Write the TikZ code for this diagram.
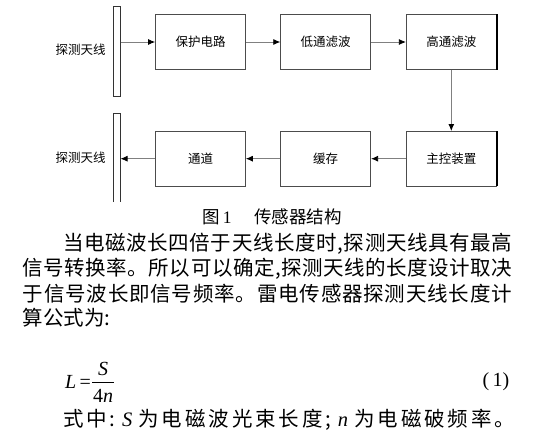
\documentclass[tikz,border=0pt]{standalone}
\usepackage{fontspec}
\setmainfont{Liberation Serif}
\newfontfamily\cjk{Noto Sans CJK SC}
\usetikzlibrary{arrows.meta}
\makeatletter
\def\spr@aux#1{\ifx#1\relax\else#1\hfil\expandafter\spr@aux\fi}
\newcommand\spreadto[2]{\hbox to #1{\spr@aux#2\relax\unskip}}
\makeatother
\newcommand\myS{\,{\rmfamily\itshape S}\,}
\newcommand\myN{\,{\rmfamily\itshape n}\,}
\begin{document}
\begin{tikzpicture}[x=1pt,y=-1pt,
  box/.style={draw=gray!60!black, line width=0.8pt, minimum width=90pt, minimum height=54.6pt, inner sep=0pt, font=\cjk\fontsize{12.5}{14}\selectfont},
  conn/.style={draw=gray, line width=0.8pt, -{Latex[length=7pt,width=6pt,color=black]}},
  lab/.style={font=\cjk\fontsize{12.5}{14}\selectfont, inner sep=0pt},
  body/.style={font=\cjk\fontsize{20.5}{24}\selectfont, inner sep=0pt, anchor=west},
  shadowedge/.style={draw=black, line width=1.8pt}]
\useasboundingbox (0,0) rectangle (538,444);
% antennas
\node[draw=gray!40!black, line width=0.8pt, minimum width=7pt, minimum height=90pt, inner sep=0pt] (ant1) at (116.8,51.3) {};
\node[minimum width=7pt, minimum height=88.3pt, inner sep=0pt] (ant2) at (116.8,157.85) {};
\draw[draw=gray!40!black, line width=0.8pt] (ant2.south west) -- (ant2.north west) -- (ant2.north east) -- (ant2.south east);
\node[lab] (l1) at (80.5,50) {探测天线};
\node[lab] (l2) at (80.5,158) {探测天线};
% boxes
\node[box] (p) at (200.5,42) {保护电路};
\node[box] (lo) at (325.7,42) {低通滤波};
\node[box] (hi) at (451.3,42) {高通滤波};
\node[box] (m) at (451.3,158.7) {主控装置};
\node[box] (c) at (325.7,158.7) {缓存};
\node[box] (t) at (200.5,158.7) {通道};
\draw[shadowedge] (hi.north east) -- (hi.south east);
\draw[shadowedge] (m.north east) -- (m.south east);
% connectors
\draw[conn] (ant1.east |- p.west) -- (p.west);
\draw[conn] (p.east) -- (lo.west);
\draw[conn] (lo.east) -- (hi.west);
\draw[conn] (hi.south) -- (m.north);
\draw[conn] (m.west) -- (c.east);
\draw[conn] (c.west) -- (t.east);
\draw[conn] (t.west) -- (ant2.east |- t.west);
% caption
\node[font=\cjk\fontsize{17.5}{20}\selectfont, inner sep=0pt] (cap1) at (217,217) {图\,{\rmfamily 1}};
\node[font=\cjk\fontsize{17.5}{20}\selectfont, inner sep=0pt, anchor=west] (cap2) at (254,217) {传感器结构};
% body
\node[body] (b1) at (63,244) {\spreadto{449pt}{当电磁波长四倍于天线长度时,探测天线具有最高}};
\node[body] (b2) at (22.7,269) {\spreadto{489pt}{信号转换率。所以可以确定,探测天线的长度设计取决}};
\node[body] (b3) at (22.7,294) {\spreadto{489pt}{于信号波长即信号频率。雷电传感器探测天线长度计}};
\node[body] (b4) at (22.7,318) {算公式为:};
% formula
\node[font=\fontsize{20}{24}\selectfont, inner sep=0pt, anchor=east] (fl) at (91,382) {\textit{L}\,=};
\node[font=\fontsize{20}{24}\selectfont, inner sep=0pt] (fs) at (103,369) {\textit{S}};
\node[font=\fontsize{20}{24}\selectfont, inner sep=0pt] (fn) at (103,396) {4\textit{n}};
\draw[line width=0.7pt] (92,382.5) -- (114,382.5);
\node[font=\fontsize{20}{24}\selectfont, inner sep=0pt] (eq) at (496,382) {(\,1)};
% last line
\node[body] (b5) at (63,420) {\spreadto{452pt}{式中:\myS 为电磁波光束长度;\myN 为电磁破频率。}};
\end{tikzpicture}
\end{document}
